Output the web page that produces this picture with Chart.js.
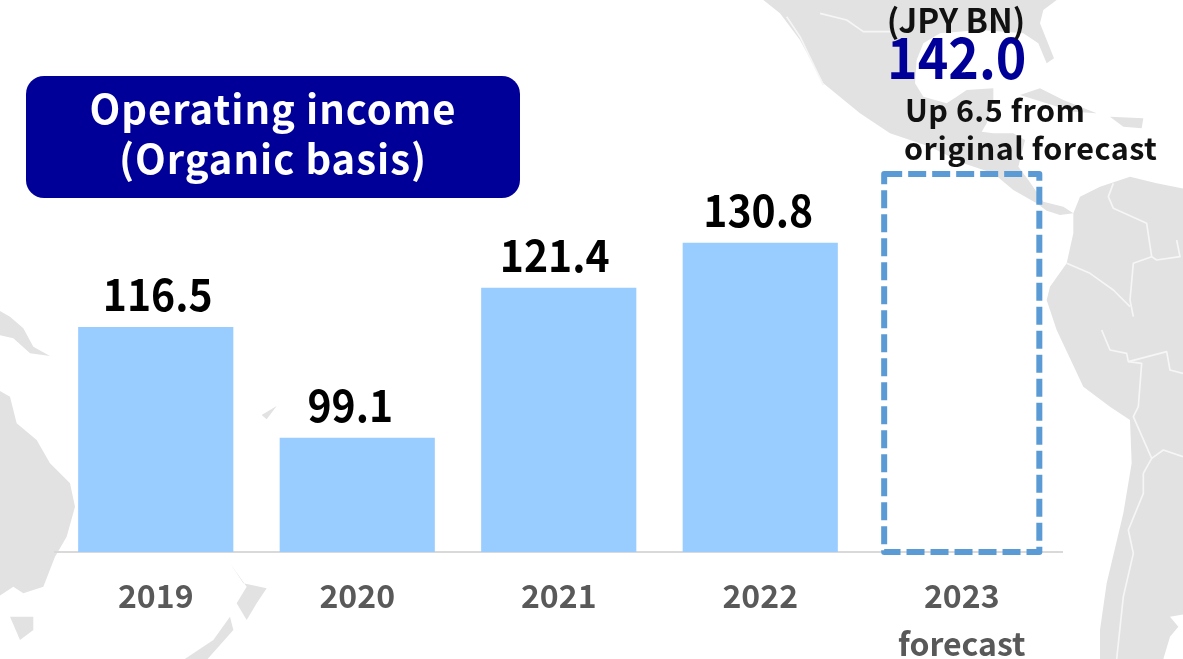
<!DOCTYPE html>
<html><head><meta charset="utf-8">
<style>html,body{margin:0;padding:0;background:#fff}canvas{display:block}</style>
<script src="https://cdn.jsdelivr.net/npm/chart.js@4"></script></head>
<body><canvas id="c" width="1183" height="659"></canvas>
<script>
// Categories and tick labels
const categories = [['2019'],['2020'],['2021'],['2022'],['2023','forecast']];
// Bar levels as drawn in the picture (its bars are not strictly proportional to their printed numbers)
const barLevels = [117.1, 99.1, 123.5, 130.8, 142.0];
// Printed value labels
const valueLabels = ['116.5','99.1','121.4','130.8','142.0'];
const labelNudge = [2,-7,-4,-2,-5];
const titleLines = ['Operating income','(Organic basis)'];
const unitLabel = '(JPY BN)';
const noteLines = ['Up 6.5 from','original forecast'];

const FONT = '"Noto Sans CJK JP","Noto Sans",sans-serif';
const LAND = '#e2e2e2';
const AXIS_MIN = 80.5;

function poly(ctx, pts, fill){
  ctx.beginPath();
  pts.forEach((p,i)=> i?ctx.lineTo(p[0],p[1]):ctx.moveTo(p[0],p[1]));
  if(fill){ctx.closePath();ctx.fill();} else ctx.stroke();
}
const mapPlugin = {
  id:'map',
  beforeDraw(chart){
    const ctx = chart.ctx;
    ctx.save();
    ctx.fillStyle='#fff';ctx.fillRect(0,0,1183,659);
    ctx.fillStyle=LAND;ctx.lineJoin='round';
    // Americas, traced in 3x crop units anchored at (780,0)
    ctx.save();ctx.translate(780,0);ctx.scale(1/3,1/3);
    poly(ctx,[[-50,0],[830,0],[790,30],[780,70],[800,120],[822,175],[800,190],[775,130],[730,100],[600,90],[480,100],[430,130],[410,180],[405,250],[430,290],[500,310],[530,290],[560,270],[640,265],[640,300],[620,370],[605,395],[640,400],[700,400],[735,420],[715,500],[745,540],[790,605],[850,620],[880,640],[840,645],[800,632],[770,610],[700,570],[640,520],[550,490],[450,440],[330,400],[240,340],[130,250],[60,120],[0,40]],true);
    poly(ctx,[[720,285],[780,265],[850,300],[950,340],[880,335],[800,310]],true);
    poly(ctx,[[990,350],[1090,355],[1085,385],[1030,380]],true);
    // South America
    poly(ctx,[[880,640],[900,590],[960,560],[1050,530],[1130,550],[1230,570],[1230,1840],[1170,1850],[1195,1880],[1170,1910],[1150,1977],[960,1977],[960,1890],[980,1750],[1030,1540],[1055,1390],[1050,1260],[990,1220],[910,1160],[830,990],[800,900],[810,860],[860,790],[880,700]],true);
    ctx.strokeStyle='#f6f6f6';ctx.lineWidth=5;
    ctx.lineJoin='round';
    poly(ctx,[[1000,550],[985,590],[1000,625],[1100,670],[1115,770],[1060,790],[1050,900],[1060,950]]);
    poly(ctx,[[860,790],[930,820],[1000,870],[1050,920]]);
    poly(ctx,[[1190,720],[1200,770],[1130,780],[1115,770]]);
    poly(ctx,[[965,990],[990,1050],[1040,1060],[1045,1085],[1085,1090],[1075,1220],[1060,1250],[1115,1375],[1090,1420],[1090,1480],[1045,1590],[1060,1660],[1030,1790],[1010,1977]]);
    poly(ctx,[[1115,1375],[1150,1350],[1209,1370]]);
    poly(ctx,[[1045,1085],[1160,1055],[1170,1110],[1209,1120]]);
    poly(ctx,[[330,95],[250,95],[200,60],[120,40]]);
    poly(ctx,[[20,50],[60,110],[130,255]]);
    ctx.restore();
    // Oceania, traced in 3x crop units anchored at (0,330)
    ctx.save();ctx.translate(0,330);ctx.scale(1/3,1/3);
    poly(ctx,[[-5,180],[30,200],[50,280],[110,330],[150,400],[210,460],[225,530],[200,620],[165,680],[130,770],[70,790],[40,770],[-5,800]],true);
    poly(ctx,[[30,860],[100,860],[100,900],[60,930]],true);
    poly(ctx,[[-5,-60],[30,-40],[70,-5],[100,50],[150,78],[90,70],[40,25],[-5,15]],true);
    poly(ctx,[[690,700],[730,760],[800,775],[770,820],[740,870],[710,820],[740,770]],true);
    poly(ctx,[[690,860],[640,930],[550,990],[620,990],[700,900]],true);
    poly(ctx,[[785,255],[830,228],[800,268]],true);
    ctx.restore();
    ctx.restore();
  }
};

function text(ctx,str,x,y,font,color,align,spacing,sx){
  ctx.save();
  ctx.font=font;ctx.fillStyle=color;ctx.textAlign=align||'center';ctx.textBaseline='alphabetic';
  ctx.letterSpacing=spacing||'0px';
  ctx.translate(x,y);ctx.scale(sx||1,1);
  ctx.fillText(str,0,0);
  ctx.restore();
}
const overlayPlugin = {
  id:'overlay',
  afterDatasetsDraw(chart){
    const ctx=chart.ctx, els=chart.getDatasetMeta(0).data;
    ctx.save();
    // Dashed forecast outline, from the library's bar geometry
    const f=els[4], half=f.width/2;
    ctx.strokeStyle='#5B9BD5';ctx.lineWidth=6;ctx.setLineDash([18,6]);
    ctx.lineJoin='round';
    ctx.strokeRect(f.x-half,f.y,f.width,f.base-f.y);
    ctx.setLineDash([]);
    // Value labels
    els.forEach((el,i)=>{
      if(i===4){
        text(ctx,valueLabels[i],el.x+labelNudge[i],el.y-95,'bold 57px '+FONT,'#000099','center','0px',0.91);
      }else{
        text(ctx,valueLabels[i],el.x+labelNudge[i],el.y-16,'bold 44px '+FONT,'#000000','center','0px',0.93);
      }
    });
    // Title box
    ctx.fillStyle='#000099';
    ctx.beginPath();ctx.roundRect(26,76,494,122,18);ctx.fill();
    text(ctx,titleLines[0],273,124,'bold 40px '+FONT,'#ffffff','center','1px');
    text(ctx,titleLines[1],273,174,'bold 40px '+FONT,'#ffffff','center','1px');
    // Unit and note
    text(ctx,unitLabel,956,33,'bold 33px '+FONT,'#111111');
    text(ctx,noteLines[0],905,122,'bold 30.5px '+FONT,'#111111','left','0.5px');
    text(ctx,noteLines[1],904,160,'bold 30.5px '+FONT,'#111111','left','0.5px');
    ctx.restore();
  }
};

new Chart(document.getElementById('c').getContext('2d'),{
  type:'bar',
  data:{labels:categories,datasets:[{
    data:barLevels,
    base:AXIS_MIN,
    backgroundColor:['#99CCFF','#99CCFF','#99CCFF','#99CCFF','rgba(0,0,0,0)'],
    borderWidth:0,
    barPercentage:0.77,
    categoryPercentage:1
  }]},
  options:{
    responsive:false,animation:false,
    layout:{padding:{left:55,right:120.5,top:0,bottom:0}},
    plugins:{legend:{display:false},title:{display:false},tooltip:{enabled:false}},
    scales:{
      x:{
        afterFit(s){s.height=107;},
        grid:{display:false},
        border:{display:true,color:'#d9d9d9',width:2},
        ticks:{color:'#595959',padding:12,autoSkip:false,maxRotation:0,minRotation:0,
          font:{family:FONT,size:32,weight:'bold',lineHeight:1.5}}
      },
      y:{display:false,min:AXIS_MIN,max:170.3}
    }
  },
  plugins:[mapPlugin,overlayPlugin]
});
</script></body></html>
